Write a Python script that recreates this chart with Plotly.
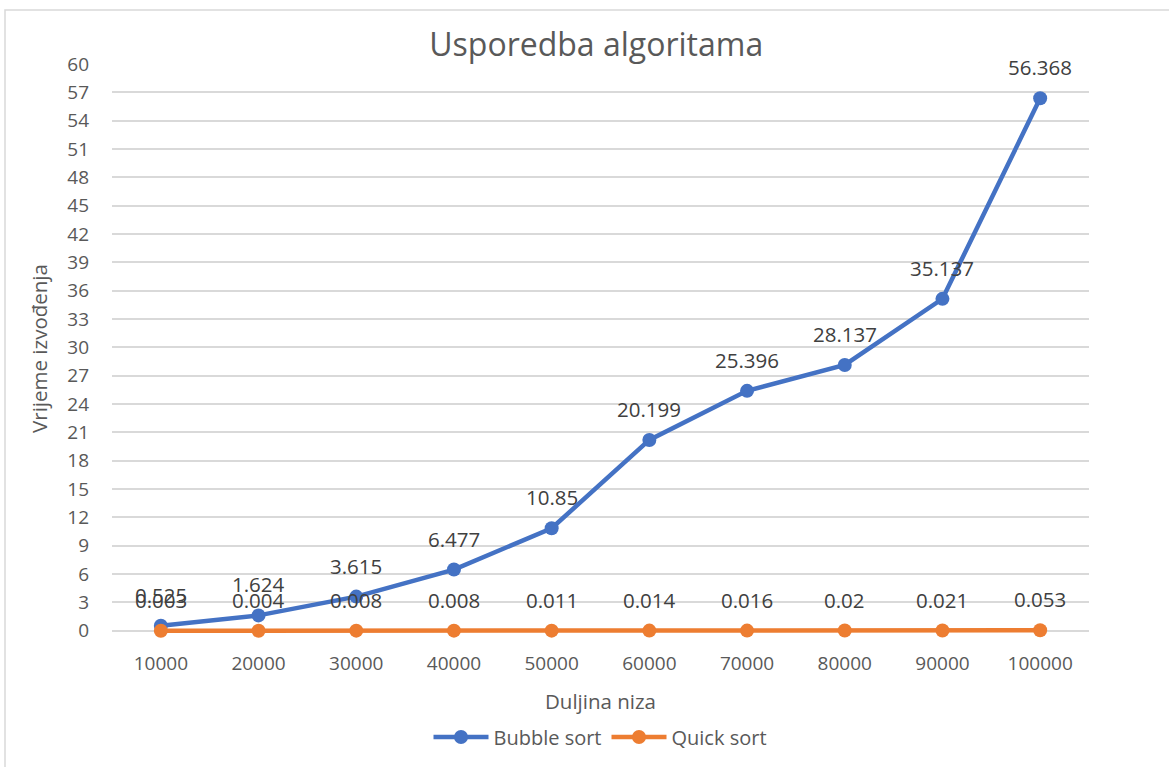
import plotly.graph_objects as go

categories = ["10000", "20000", "30000", "40000", "50000", "60000", "70000", "80000", "90000", "100000"]
bubble_sort = [0.525, 1.624, 3.615, 6.477, 10.85, 20.199, 25.396, 28.137, 35.137, 56.368]
quick_sort = [0.003, 0.004, 0.008, 0.008, 0.011, 0.014, 0.016, 0.02, 0.021, 0.053]
y_ticks = list(range(0, 61, 3))

FONT = "Open Sans"
BLUE = "#4472C4"
ORANGE = "#ED7D31"

fig = go.Figure()
fig.add_trace(go.Scatter(x=categories, y=bubble_sort, mode="lines+markers", name="Bubble sort",
                         line=dict(color=BLUE, width=4.5), marker=dict(size=14, color=BLUE),
                         cliponaxis=False))
fig.add_trace(go.Scatter(x=categories, y=quick_sort, mode="lines+markers", name="Quick sort",
                         line=dict(color=ORANGE, width=4.5), marker=dict(size=14, color=ORANGE),
                         cliponaxis=False))

W, H = 1169, 767
L, R, T, B = 112, 80, 64, 133
pw, ph = W - L - R, H - T - B

def px_x(x):
    return (x - L) / pw

def px_y(y):
    return (H - B - y) / ph

for series in (bubble_sort, quick_sort):
    for i, v in enumerate(series):
        fig.add_annotation(x=i, y=v, xref="x", yref="y", text=str(v), showarrow=False,
                           yshift=31, font=dict(family=FONT, size=20.5, color="#404040"))

fig.update_layout(
    width=W, height=H,
    margin=dict(l=L, r=R, t=T, b=B),
    paper_bgcolor="white", plot_bgcolor="white",
    font=dict(family=FONT, color="#595959"),
    title=dict(text="Usporedba algoritama", x=0.51, xanchor="center", y=1 - 45 / H, yanchor="middle",
               font=dict(family=FONT, size=32, color="#595959")),
    xaxis=dict(type="category", range=[-0.5, 9.5], showgrid=False, showline=False,
               ticks="", tickfont=dict(size=19, color="#595959"), layer="below traces",
               ticklabelstandoff=17,
               title=dict(text="Duljina niza", font=dict(size=20.5, color="#595959"), standoff=19)),
    yaxis=dict(range=[-0.24, 60], tickvals=y_ticks, showgrid=True, gridcolor="#d9d9d9", gridwidth=1.5,
               zeroline=False, ticks="", tickfont=dict(size=19, color="#595959"), ticklabelstandoff=22,
               layer="below traces",
               title=dict(text="Vrijeme izvođenja", font=dict(size=20.5, color="#595959"), standoff=14)),
    legend=dict(orientation="h", x=0.5, xanchor="center", y=px_y(737), yanchor="middle",
                font=dict(size=20, color="#595959"), itemwidth=55),
    showlegend=True,
)
fig.add_shape(type="rect", xref="paper", yref="paper", x0=px_x(5), x1=px_x(1200), y0=px_y(800), y1=px_y(10),
              line=dict(color="#d9d9d9", width=1.5), layer="below")

fig.write_html("out.html", config={"displayModeBar": False},
               post_script="document.body.style.margin='0';")
